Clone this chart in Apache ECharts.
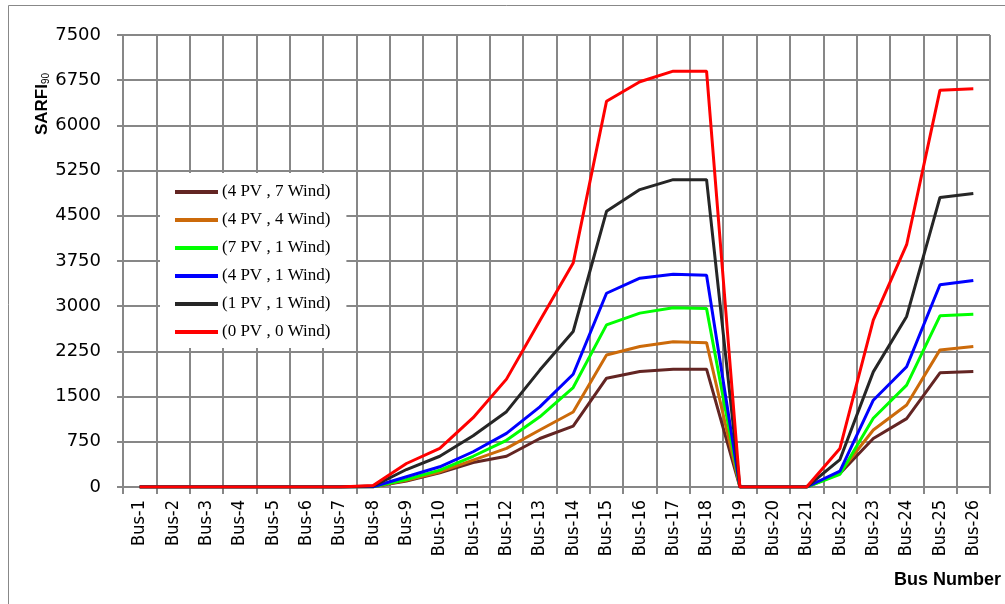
<!DOCTYPE html>
<html>
<head>
<meta charset="utf-8">
<title>SARFI90 by bus</title>
<script src="https://cdn.jsdelivr.net/npm/echarts@6/dist/echarts.min.js"></script>
<style>
  html, body { margin: 0; padding: 0; background: #fff; }
  #chart { width: 1005px; height: 604px; }
</style>
</head>
<body>
<div id="chart"></div>
<script>
// Bus labels along the feeder
const buses = [];
for (let i = 1; i <= 26; i++) buses.push('Bus-' + i);

// Y-axis ticks
const yMin = 0;
const yMax = 7500;
const yStep = 750;

// SARFI90 per bus for each DG scenario
const pv4wind7 = [0, 0, 0, 0, 0, 0, 0, 5, 100, 235, 405, 510, 805, 1010, 1805, 1915, 1955, 1955, 0, 0, 0, 225, 805, 1135, 1895, 1915];
const pv4wind4 = [0, 0, 0, 0, 0, 0, 0, 5, 110, 250, 445, 640, 945, 1245, 2190, 2330, 2410, 2395, 0, 0, 0, 245, 945, 1360, 2275, 2330];
const pv7wind1 = [0, 0, 0, 0, 0, 0, 0, 5, 125, 280, 510, 775, 1165, 1650, 2690, 2885, 2975, 2960, 0, 0, 0, 210, 1140, 1690, 2840, 2865];
const pv4wind1 = [0, 0, 0, 0, 0, 0, 0, 5, 170, 335, 585, 890, 1330, 1870, 3215, 3465, 3530, 3515, 0, 0, 0, 265, 1440, 1995, 3355, 3425];
const pv1wind1 = [0, 0, 0, 0, 0, 0, 0, 15, 290, 510, 850, 1250, 1940, 2580, 4575, 4935, 5100, 5100, 0, 0, 0, 455, 1910, 2830, 4805, 4870];
const pv0wind0 = [0, 0, 0, 0, 0, 0, 0, 25, 390, 640, 1150, 1790, 2760, 3715, 6400, 6725, 6900, 6900, 0, 0, 0, 640, 2770, 4020, 6585, 6610];

const scenarios = [
  { name: '(4 PV , 7 Wind)', data: pv4wind7, color: '#632523' },
  { name: '(4 PV , 4 Wind)', data: pv4wind4, color: '#cc6a0a' },
  { name: '(7 PV , 1 Wind)', data: pv7wind1, color: '#00ff00' },
  { name: '(4 PV , 1 Wind)', data: pv4wind1, color: '#0000ff' },
  { name: '(1 PV , 1 Wind)', data: pv1wind1, color: '#262626' },
  { name: '(0 PV , 0 Wind)', data: pv0wind0, color: '#ff0000' }
];

const gridColor = '#878787';

const chart = echarts.init(document.getElementById('chart'), null, { renderer: 'canvas' });

chart.setOption({
  backgroundColor: '#fff',
  animation: false,
  grid: { left: 123, right: 15, top: 35, bottom: 117, containLabel: false },
  legend: {
    orient: 'vertical',
    left: 160,
    top: 173,
    backgroundColor: '#fff',
    padding: [10, 16, 7, 15],
    itemWidth: 43,
    itemHeight: 4,
    itemGap: 10,
    icon: 'rect',
    textStyle: {
      fontFamily: 'Liberation Serif',
      fontSize: 17,
      color: '#000',
      lineHeight: 18,
      padding: [0, 0, 0, -1]
    },
    data: scenarios.map(s => s.name)
  },
  xAxis: {
    type: 'category',
    data: buses,
    boundaryGap: true,
    axisLine: { show: true, lineStyle: { color: gridColor, width: 2 } },
    axisTick: { show: true, interval: 0, length: 7, lineStyle: { color: gridColor, width: 2 } },
    splitLine: { show: true, interval: 0, lineStyle: { color: gridColor, width: 2 } },
    axisLabel: {
      interval: 0,
      rotate: 90,
      margin: 13,
      fontFamily: 'DejaVu Sans Condensed',
      fontSize: 18,
      color: '#000'
    }
  },
  yAxis: {
    type: 'value',
    min: yMin,
    max: yMax,
    interval: yStep,
    axisLine: { show: true, lineStyle: { color: gridColor, width: 2 } },
    axisTick: { show: true, length: 6, lineStyle: { color: gridColor, width: 2 } },
    splitLine: { show: true, lineStyle: { color: gridColor, width: 2 } },
    axisLabel: {
      margin: 22,
      fontFamily: 'DejaVu Sans',
      fontSize: 18,
      color: '#000',
      formatter: v => String(v)
    }
  },
  graphic: [
    {
      type: 'line',
      shape: { x1: 8.5, y1: 5.5, x2: 1005, y2: 5.5 },
      style: { stroke: '#888', lineWidth: 1 }
    },
    {
      type: 'line',
      shape: { x1: 8.5, y1: 5.5, x2: 8.5, y2: 604 },
      style: { stroke: '#888', lineWidth: 1 }
    },
    {
      type: 'text',
      x: 42,
      y: 104,
      rotation: Math.PI / 2,
      style: {
        text: '{m|SARFI}{s|90}',
        align: 'center',
        verticalAlign: 'middle',
        rich: {
          m: { fontFamily: 'Liberation Sans', fontWeight: 'bold', fontSize: 17, fill: '#000' },
          s: { fontFamily: 'Liberation Sans', fontSize: 10, fill: '#000', padding: [8, 0, 0, 0] }
        }
      }
    },
    {
      type: 'text',
      right: 4,
      top: 571,
      style: {
        text: 'Bus Number',
        fontFamily: 'Liberation Sans',
        fontWeight: 'bold',
        fontSize: 18,
        fill: '#000'
      }
    }
  ],
  series: scenarios.map(s => ({
    name: s.name,
    type: 'line',
    data: s.data,
    showSymbol: false,
    symbol: 'none',
    smooth: false,
    color: s.color,
    lineStyle: { color: s.color, width: 3 }
  }))
});
</script>
</body>
</html>
